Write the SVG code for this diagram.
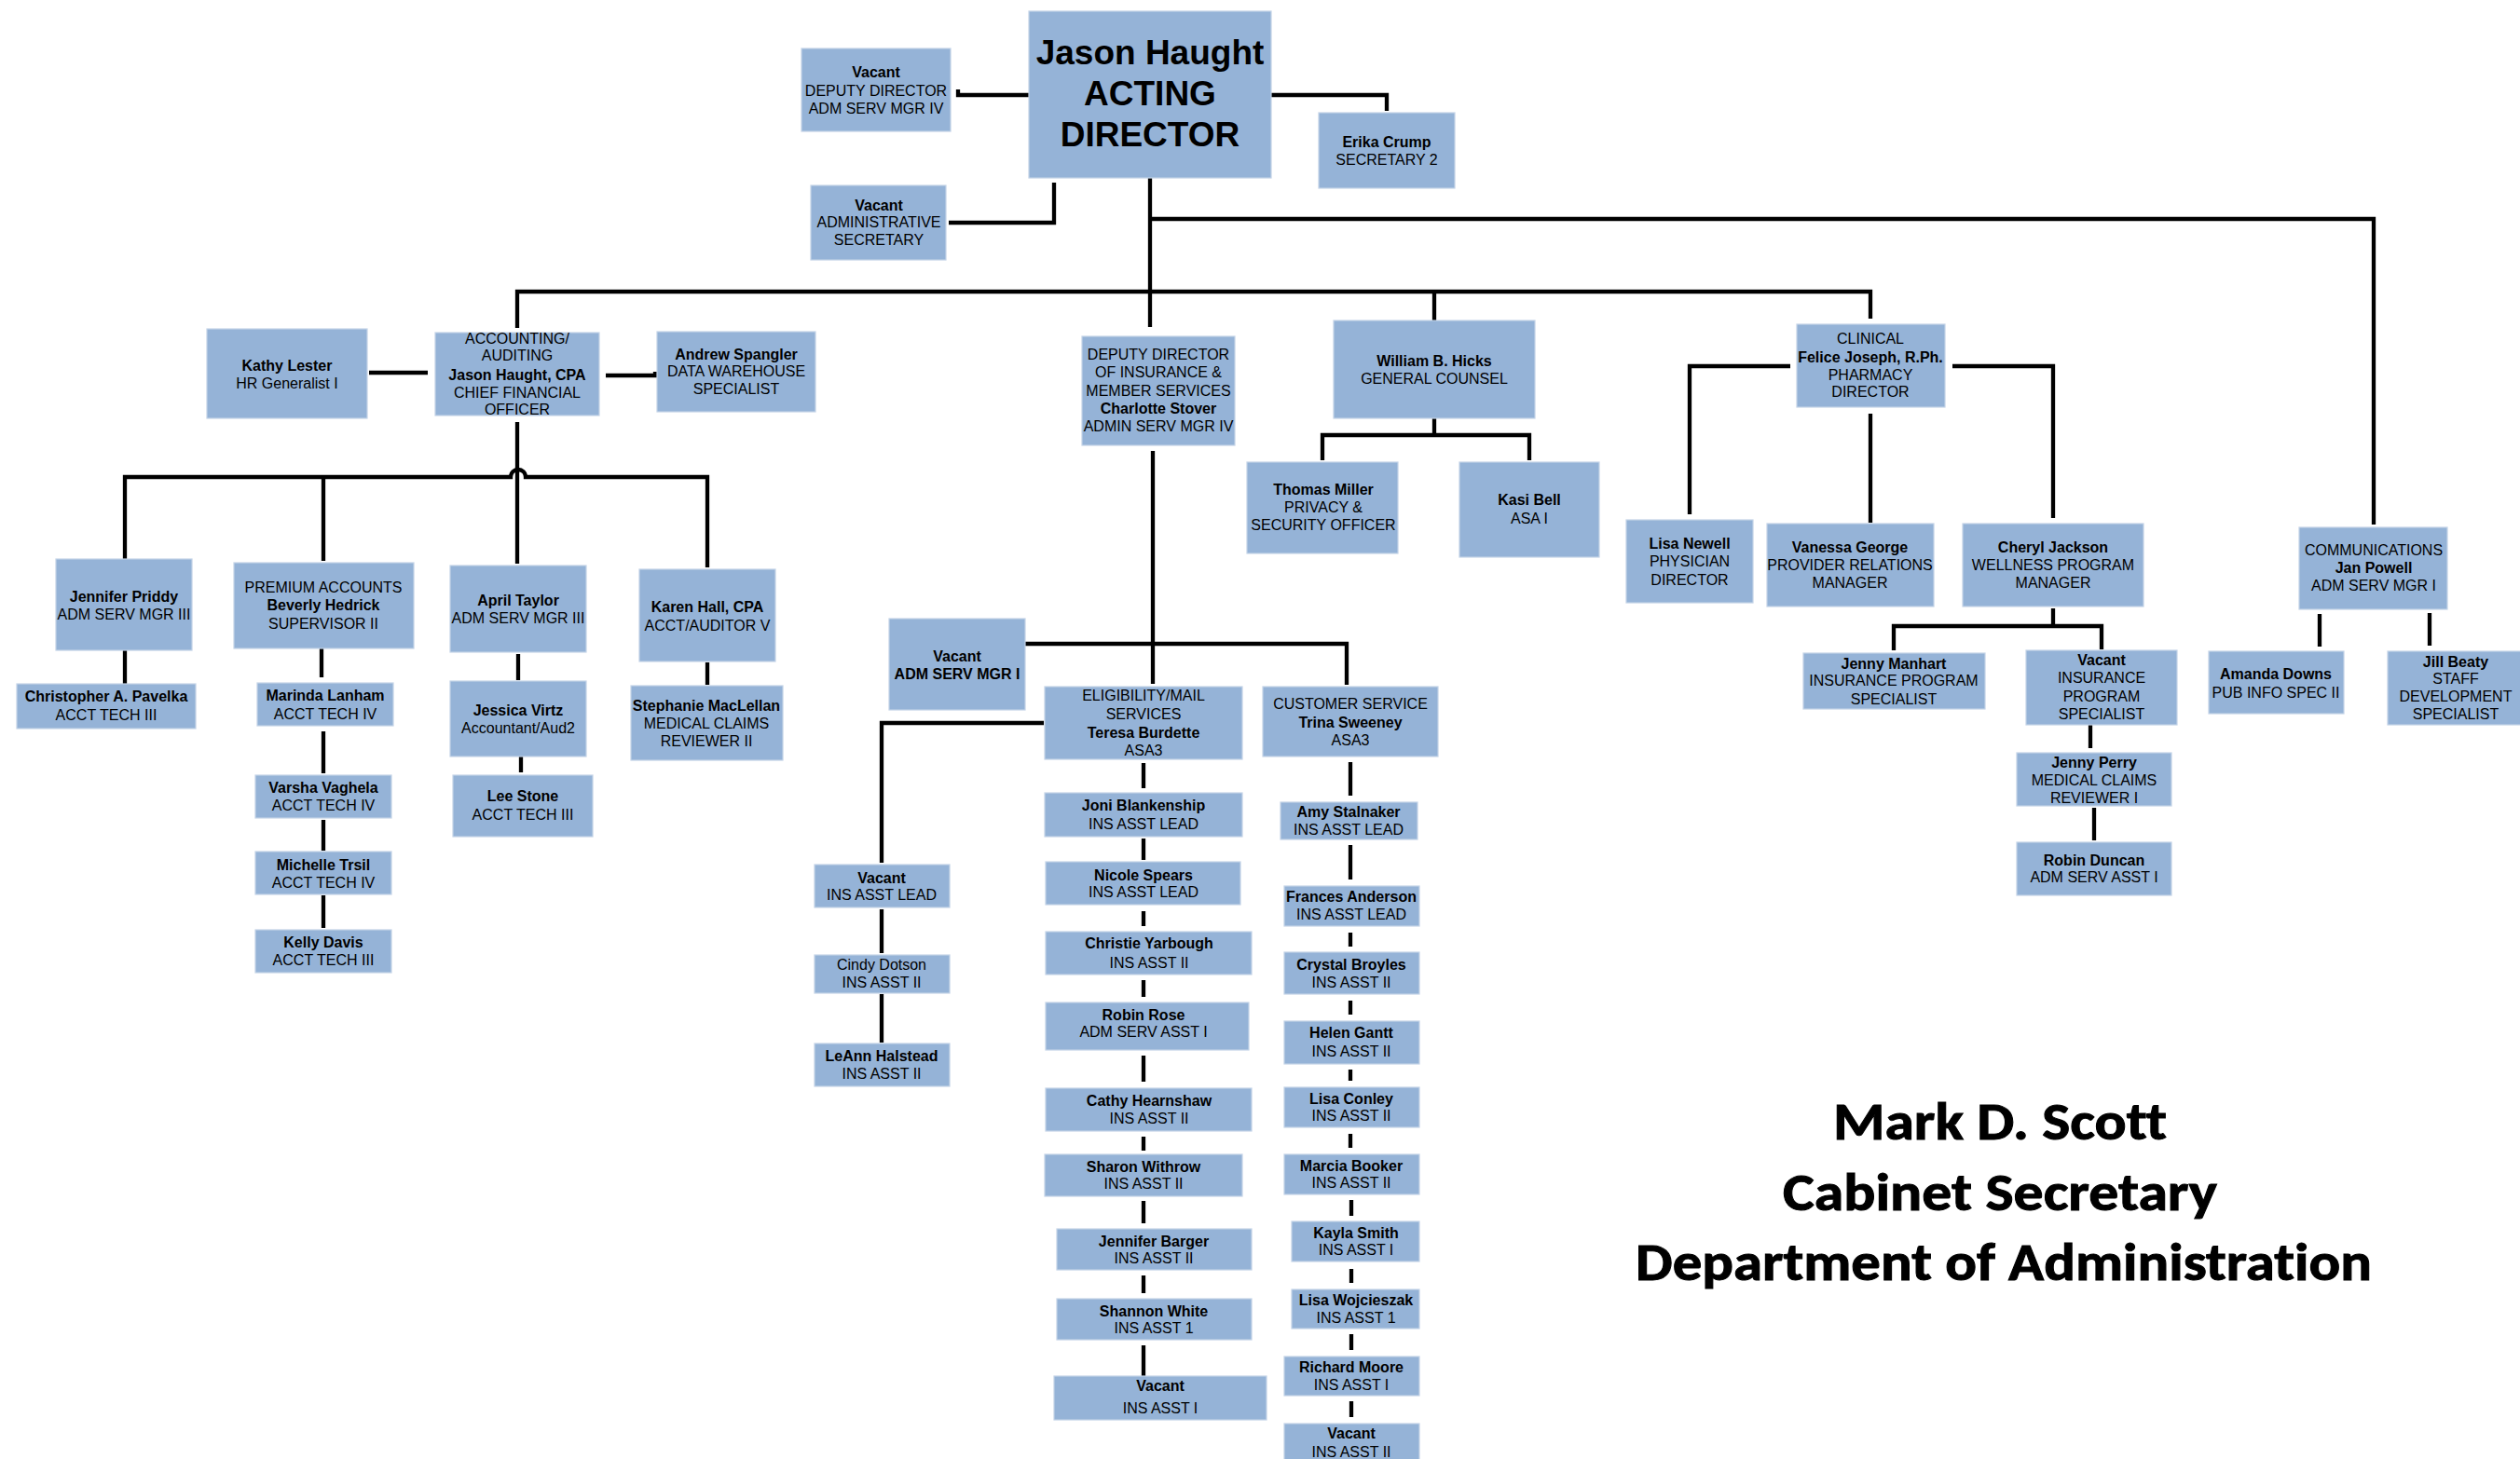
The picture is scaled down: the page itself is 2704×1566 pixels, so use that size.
<svg xmlns="http://www.w3.org/2000/svg" width="2704" height="1566" viewBox="0 0 2704 1566">
<style>
rect.b{fill:#95B3D7;stroke:#C3D3E7;stroke-width:1.2}
text{font-family:"Liberation Sans",Arial,Helvetica,sans-serif;font-size:16px;fill:#000;text-anchor:middle}
.n{font-weight:bold}
.big{font-size:37px;font-weight:bold}
.cap{font-family:Carlito,Calibri,Lato,"Open Sans",sans-serif;font-size:57px;font-weight:bold;font-variant-ligatures:none;stroke:#000;stroke-width:1}
#connectors path{fill:none;stroke:#000;stroke-width:4.3;stroke-linejoin:miter}
</style>
<rect width="2704" height="1566" fill="#fff"/>
<g id="connectors">
<path d="M1028,96 V102 H1104"/>
<path d="M1364,102 H1488 V119"/>
<path d="M1018,239 H1131 V196"/>
<path d="M1234,191 V351"/>
<path d="M1234,235 H2547 V563"/>
<path d="M555,352 V313 H2007 V342"/>
<path d="M1539,313 V346"/>
<path d="M396,400 H459"/>
<path d="M650,403 H703 V399"/>
<path d="M555,453 V605"/>
<path d="M134,600 V512 H548 A8,8 0 0 1 564,512 H759 V609"/>
<path d="M347,512 V602"/>
<path d="M134,698 V735"/>
<path d="M345,691 V727"/>
<path d="M347,785 V830"/>
<path d="M347,880 V913"/>
<path d="M347,961 V996"/>
<path d="M556,702 V730"/>
<path d="M559,805 V829"/>
<path d="M759,711 V735"/>
<path d="M1539,449 V467"/>
<path d="M1419,494 V467 H1641 V494"/>
<path d="M1921,393 H1813 V552"/>
<path d="M2007,444 V561"/>
<path d="M2095,393 H2203 V556"/>
<path d="M2203,653 V672"/>
<path d="M2032,698 V672 H2255 V697"/>
<path d="M2243,768 V803"/>
<path d="M2247,867 V902"/>
<path d="M2489,659 V694"/>
<path d="M2607,658 V693"/>
<path d="M1237,484 V734"/>
<path d="M1095,691 H1445 V735"/>
<path d="M1120,776 H946 V926"/>
<path d="M946,976 V1023"/>
<path d="M946,1067 V1119"/>
<path d="M1227,819 V846"/>
<path d="M1227,900 V923"/>
<path d="M1227,978 V994"/>
<path d="M1227,1052 V1070"/>
<path d="M1227,1133 V1161"/>
<path d="M1227,1220 V1235"/>
<path d="M1227,1289 V1313"/>
<path d="M1227,1369 V1388"/>
<path d="M1227,1444 V1477"/>
<path d="M1449,818 V854"/>
<path d="M1449,907 V944"/>
<path d="M1449,1001 V1016"/>
<path d="M1449,1074 V1089"/>
<path d="M1449,1148 V1160"/>
<path d="M1449,1217 V1232"/>
<path d="M1450,1288 V1305"/>
<path d="M1450,1362 V1377"/>
<path d="M1450,1432 V1449"/>
<path d="M1450,1504 V1521"/>
</g>

<g id="director"><rect class="b" x="1104" y="12" width="260" height="179"/>
<text class="big" x="1234" y="69">Jason Haught</text><text class="big" x="1234" y="113">ACTING</text><text class="big" x="1234" y="157">DIRECTOR</text></g>

<g id="deputy-vacant"><rect class="b" x="860" y="52" width="160" height="89"/>
<text class="n" x="940" y="83">Vacant</text><text x="940" y="103">DEPUTY DIRECTOR</text><text x="940" y="122">ADM SERV MGR IV</text></g>

<g id="erika-crump"><rect class="b" x="1415" y="121" width="146" height="81"/>
<text class="n" x="1488" y="158">Erika Crump</text><text x="1488" y="177">SECRETARY 2</text></g>

<g id="admin-secretary"><rect class="b" x="870" y="199" width="145" height="80"/>
<text class="n" x="943" y="226">Vacant</text><text x="943" y="244">ADMINISTRATIVE</text><text x="943" y="263">SECRETARY</text></g>

<g id="kathy-lester"><rect class="b" x="222" y="353" width="172" height="96"/>
<text class="n" x="308" y="398">Kathy Lester</text><text x="308" y="417">HR Generalist I</text></g>

<g id="accounting"><rect class="b" x="467" y="357" width="176" height="89"/>
<text x="555" y="369">ACCOUNTING/</text><text x="555" y="387">AUDITING</text><text class="n" x="555" y="408">Jason Haught, CPA</text><text x="555" y="427">CHIEF FINANCIAL</text><text x="555" y="445">OFFICER</text></g>

<g id="andrew-spangler"><rect class="b" x="705" y="356" width="170" height="86"/>
<text class="n" x="790" y="386">Andrew Spangler</text><text x="790" y="404">DATA WAREHOUSE</text><text x="790" y="423">SPECIALIST</text></g>

<g id="deputy-insurance"><rect class="b" x="1161" y="361" width="164" height="117"/>
<text x="1243" y="386">DEPUTY DIRECTOR</text><text x="1243" y="405">OF INSURANCE &amp;</text><text x="1243" y="425">MEMBER SERVICES</text><text class="n" x="1243" y="444">Charlotte Stover</text><text x="1243" y="463">ADMIN SERV MGR IV</text></g>

<g id="william-hicks"><rect class="b" x="1431" y="344" width="216" height="105"/>
<text class="n" x="1539" y="393">William B. Hicks</text><text x="1539" y="412">GENERAL COUNSEL</text></g>

<g id="thomas-miller"><rect class="b" x="1338" y="496" width="162" height="98"/>
<text class="n" x="1420" y="531">Thomas Miller</text><text x="1420" y="550">PRIVACY &amp;</text><text x="1420" y="569">SECURITY OFFICER</text></g>

<g id="kasi-bell"><rect class="b" x="1566" y="496" width="150" height="102"/>
<text class="n" x="1641" y="542">Kasi Bell</text><text x="1641" y="562">ASA I</text></g>

<g id="clinical"><rect class="b" x="1928" y="348" width="159" height="89"/>
<text x="2007" y="369">CLINICAL</text><text class="n" x="2007" y="389">Felice Joseph, R.Ph.</text><text x="2007" y="408">PHARMACY</text><text x="2007" y="426">DIRECTOR</text></g>

<g id="lisa-newell"><rect class="b" x="1745" y="558" width="136" height="89"/>
<text class="n" x="1813" y="589">Lisa Newell</text><text x="1813" y="608">PHYSICIAN</text><text x="1813" y="628">DIRECTOR</text></g>

<g id="vanessa-george"><rect class="b" x="1896" y="562" width="179" height="89"/>
<text class="n" x="1985" y="593">Vanessa George</text><text x="1985" y="612">PROVIDER RELATIONS</text><text x="1985" y="631">MANAGER</text></g>

<g id="cheryl-jackson"><rect class="b" x="2106" y="562" width="194" height="89"/>
<text class="n" x="2203" y="593">Cheryl Jackson</text><text x="2203" y="612">WELLNESS PROGRAM</text><text x="2203" y="631">MANAGER</text></g>

<g id="jenny-manhart"><rect class="b" x="1935" y="701" width="195" height="60"/>
<text class="n" x="2032" y="718">Jenny Manhart</text><text x="2032" y="736">INSURANCE PROGRAM</text><text x="2032" y="756">SPECIALIST</text></g>

<g id="vacant-ins-program"><rect class="b" x="2174" y="698" width="162" height="80"/>
<text class="n" x="2255" y="714">Vacant</text><text x="2255" y="733">INSURANCE</text><text x="2255" y="753">PROGRAM</text><text x="2255" y="772">SPECIALIST</text></g>

<g id="jenny-perry"><rect class="b" x="2164" y="808" width="166" height="57"/>
<text class="n" x="2247" y="824">Jenny Perry</text><text x="2247" y="843">MEDICAL CLAIMS</text><text x="2247" y="862">REVIEWER I</text></g>

<g id="robin-duncan"><rect class="b" x="2164" y="904" width="166" height="57"/>
<text class="n" x="2247" y="929">Robin Duncan</text><text x="2247" y="947">ADM SERV ASST I</text></g>

<g id="communications"><rect class="b" x="2467" y="566" width="159" height="88"/>
<text x="2547" y="596">COMMUNICATIONS</text><text class="n" x="2547" y="615">Jan Powell</text><text x="2547" y="634">ADM SERV MGR I</text></g>

<g id="amanda-downs"><rect class="b" x="2370" y="699" width="145" height="67"/>
<text class="n" x="2442" y="729">Amanda Downs</text><text x="2442" y="749">PUB INFO SPEC II</text></g>

<g id="jill-beaty"><rect class="b" x="2562" y="699" width="143" height="79"/>
<text class="n" x="2635" y="716">Jill Beaty</text><text x="2635" y="734">STAFF</text><text x="2635" y="753">DEVELOPMENT</text><text x="2635" y="772">SPECIALIST</text></g>

<g id="jennifer-priddy"><rect class="b" x="60" y="600" width="146" height="98"/>
<text class="n" x="133" y="646">Jennifer Priddy</text><text x="133" y="665">ADM SERV MGR III</text></g>

<g id="christopher-pavelka"><rect class="b" x="18" y="734" width="192" height="48"/>
<text class="n" x="114" y="753">Christopher A. Pavelka</text><text x="114" y="773">ACCT TECH III</text></g>

<g id="premium-accounts"><rect class="b" x="251" y="604" width="193" height="92"/>
<text x="347" y="636">PREMIUM ACCOUNTS</text><text class="n" x="347" y="655">Beverly Hedrick</text><text x="347" y="675">SUPERVISOR II</text></g>

<g id="marinda-lanham"><rect class="b" x="276" y="733" width="146" height="46"/>
<text class="n" x="349" y="752">Marinda Lanham</text><text x="349" y="772">ACCT TECH IV</text></g>

<g id="varsha-vaghela"><rect class="b" x="274" y="832" width="146" height="46"/>
<text class="n" x="347" y="851">Varsha Vaghela</text><text x="347" y="870">ACCT TECH IV</text></g>

<g id="michelle-trsil"><rect class="b" x="274" y="914" width="146" height="46"/>
<text class="n" x="347" y="934">Michelle Trsil</text><text x="347" y="953">ACCT TECH IV</text></g>

<g id="kelly-davis"><rect class="b" x="274" y="998" width="146" height="46"/>
<text class="n" x="347" y="1017">Kelly Davis</text><text x="347" y="1036">ACCT TECH III</text></g>

<g id="april-taylor"><rect class="b" x="483" y="607" width="146" height="93"/>
<text class="n" x="556" y="650">April Taylor</text><text x="556" y="669">ADM SERV MGR III</text></g>

<g id="jessica-virtz"><rect class="b" x="483" y="731" width="146" height="81"/>
<text class="n" x="556" y="768">Jessica Virtz</text><text x="556" y="787">Accountant/Aud2</text></g>

<g id="lee-stone"><rect class="b" x="486" y="832" width="150" height="66"/>
<text class="n" x="561" y="860">Lee Stone</text><text x="561" y="880">ACCT TECH III</text></g>

<g id="karen-hall"><rect class="b" x="686" y="611" width="146" height="99"/>
<text class="n" x="759" y="657">Karen Hall, CPA</text><text x="759" y="677">ACCT/AUDITOR V</text></g>

<g id="stephanie-maclellan"><rect class="b" x="677" y="736" width="163" height="80"/>
<text class="n" x="758" y="763">Stephanie MacLellan</text><text x="758" y="782">MEDICAL CLAIMS</text><text x="758" y="801">REVIEWER II</text></g>

<g id="vacant-adm-serv-mgr-i"><rect class="b" x="954" y="664" width="146" height="98"/>
<text class="n" x="1027" y="710">Vacant</text><text class="n" x="1027" y="729">ADM SERV MGR I</text></g>

<g id="eligibility"><rect class="b" x="1121" y="737" width="212" height="78"/>
<text x="1227" y="752">ELIGIBILITY/MAIL</text><text x="1227" y="772">SERVICES</text><text class="n" x="1227" y="792">Teresa Burdette</text><text x="1227" y="811">ASA3</text></g>

<g id="customer-service"><rect class="b" x="1355" y="737" width="188" height="75"/>
<text x="1449" y="761">CUSTOMER SERVICE</text><text class="n" x="1449" y="781">Trina Sweeney</text><text x="1449" y="800">ASA3</text></g>

<g id="vacant-ins-asst-lead"><rect class="b" x="874" y="928" width="145" height="46"/>
<text class="n" x="946" y="948">Vacant</text><text x="946" y="966">INS ASST LEAD</text></g>

<g id="cindy-dotson"><rect class="b" x="874" y="1025" width="145" height="41"/>
<text x="946" y="1041">Cindy Dotson</text><text x="946" y="1060">INS ASST II</text></g>

<g id="leann-halstead"><rect class="b" x="874" y="1120" width="145" height="46"/>
<text class="n" x="946" y="1139">LeAnn Halstead</text><text x="946" y="1158">INS ASST II</text></g>

<g id="joni-blankenship"><rect class="b" x="1121" y="851" width="212" height="47"/>
<text class="n" x="1227" y="870">Joni Blankenship</text><text x="1227" y="890">INS ASST LEAD</text></g>

<g id="nicole-spears"><rect class="b" x="1122" y="925" width="209" height="46"/>
<text class="n" x="1227" y="945">Nicole Spears</text><text x="1227" y="963">INS ASST LEAD</text></g>

<g id="christie-yarbough"><rect class="b" x="1122" y="1000" width="221" height="46"/>
<text class="n" x="1233" y="1018">Christie Yarbough</text><text x="1233" y="1039">INS ASST II</text></g>

<g id="robin-rose"><rect class="b" x="1122" y="1076" width="218" height="51"/>
<text class="n" x="1227" y="1095">Robin Rose</text><text x="1227" y="1113">ADM SERV ASST I</text></g>

<g id="cathy-hearnshaw"><rect class="b" x="1122" y="1168" width="221" height="46"/>
<text class="n" x="1233" y="1187">Cathy Hearnshaw</text><text x="1233" y="1206">INS ASST II</text></g>

<g id="sharon-withrow"><rect class="b" x="1121" y="1239" width="212" height="45"/>
<text class="n" x="1227" y="1258">Sharon Withrow</text><text x="1227" y="1276">INS ASST II</text></g>

<g id="jennifer-barger"><rect class="b" x="1134" y="1319" width="209" height="44"/>
<text class="n" x="1238" y="1338">Jennifer Barger</text><text x="1238" y="1356">INS ASST II</text></g>

<g id="shannon-white"><rect class="b" x="1134" y="1394" width="209" height="44"/>
<text class="n" x="1238" y="1413">Shannon White</text><text x="1238" y="1431">INS ASST 1</text></g>

<g id="vacant-ins-asst-i"><rect class="b" x="1131" y="1477" width="228" height="47"/>
<text class="n" x="1245" y="1493">Vacant</text><text x="1245" y="1517">INS ASST I</text></g>

<g id="amy-stalnaker"><rect class="b" x="1374" y="861" width="147" height="40"/>
<text class="n" x="1447" y="877">Amy Stalnaker</text><text x="1447" y="896">INS ASST LEAD</text></g>

<g id="frances-anderson"><rect class="b" x="1378" y="951" width="145" height="43"/>
<text class="n" x="1450" y="968">Frances Anderson</text><text x="1450" y="987">INS ASST LEAD</text></g>

<g id="crystal-broyles"><rect class="b" x="1378" y="1022" width="145" height="45"/>
<text class="n" x="1450" y="1041">Crystal Broyles</text><text x="1450" y="1060">INS ASST II</text></g>

<g id="helen-gantt"><rect class="b" x="1378" y="1096" width="145" height="46"/>
<text class="n" x="1450" y="1114">Helen Gantt</text><text x="1450" y="1134">INS ASST II</text></g>

<g id="lisa-conley"><rect class="b" x="1378" y="1167" width="145" height="43"/>
<text class="n" x="1450" y="1185">Lisa Conley</text><text x="1450" y="1203">INS ASST II</text></g>

<g id="marcia-booker"><rect class="b" x="1378" y="1239" width="145" height="43"/>
<text class="n" x="1450" y="1257">Marcia Booker</text><text x="1450" y="1275">INS ASST II</text></g>

<g id="kayla-smith"><rect class="b" x="1386" y="1311" width="137" height="43"/>
<text class="n" x="1455" y="1329">Kayla Smith</text><text x="1455" y="1347">INS ASST I</text></g>

<g id="lisa-wojcieszak"><rect class="b" x="1386" y="1384" width="137" height="42"/>
<text class="n" x="1455" y="1401">Lisa Wojcieszak</text><text x="1455" y="1420">INS ASST 1</text></g>

<g id="richard-moore"><rect class="b" x="1378" y="1456" width="145" height="42"/>
<text class="n" x="1450" y="1473">Richard Moore</text><text x="1450" y="1492">INS ASST I</text></g>

<g id="vacant-ins-asst-ii"><rect class="b" x="1378" y="1528" width="145" height="42"/>
<text class="n" x="1450" y="1544">Vacant</text><text x="1450" y="1564">INS ASST II</text></g>

<g id="signature">
<text class="cap" x="2146" y="1223" textLength="358" lengthAdjust="spacingAndGlyphs">Mark D. Scott</text>
<text class="cap" x="2146" y="1299" textLength="466" lengthAdjust="spacingAndGlyphs">Cabinet Secretary</text>
<text class="cap" x="2150" y="1374" textLength="790" lengthAdjust="spacingAndGlyphs">Department of Administration</text>
</g>
</svg>
